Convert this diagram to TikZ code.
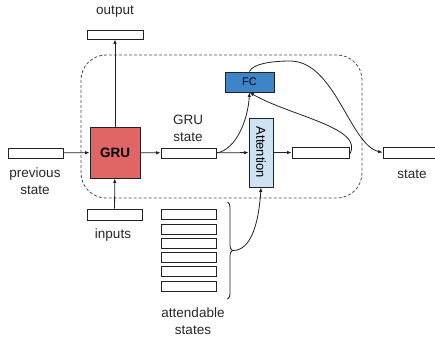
\documentclass[tikz,border=0pt]{standalone}
\usepackage{fontspec}
\setmainfont{Liberation Sans}
\usetikzlibrary{arrows.meta,decorations.pathreplacing}
\definecolor{gruRed}{HTML}{E06666}
\definecolor{fcBlue}{HTML}{3D85C6}
\definecolor{attBlue}{HTML}{CFE2F3}
\definecolor{lineC}{HTML}{222222}
\begin{document}
\begin{tikzpicture}[x=1pt,y=-1pt,
  every node/.style={font=\fontsize{13.5}{17}\selectfont},
  slot/.style={draw=lineC,line width=0.8pt,fill=white,inner sep=0pt,minimum width=55pt,minimum height=10pt},
  lbl/.style={align=center,inner sep=0pt,text=black!85},
  arr/.style={-{Latex[length=4.5pt,width=3.5pt]},line width=0.8pt,draw=lineC},
  link/.style={line width=0.8pt,draw=lineC}
]
\useasboundingbox (0,0) rectangle (435,338);
% frame
\node[draw=black!70,dashed,dash pattern=on 3pt off 2pt,line width=0.8pt,rounded corners=25pt,
      minimum width=281pt,minimum height=143pt,inner sep=0pt] (frame) at (221.5,126.5) {};
% boxes
\node[slot] (prev) at (35.5,153) {};
\node[draw=lineC,line width=0.8pt,fill=gruRed,minimum width=50pt,minimum height=51pt,inner sep=0pt,font=\fontsize{13.5}{17}\selectfont\bfseries] (gru) at (115,152.5) {GRU};
\node[slot] (gstate) at (188.5,153) {};
\node[draw=lineC,line width=0.8pt,fill=attBlue,minimum width=24pt,minimum height=69pt,inner sep=0pt,
      label={[rotate=-90,inner sep=0pt,font=\fontsize{13}{15}\selectfont]center:Attention}] (attn) at (261,152.5) {};
\node[draw=lineC,line width=0.8pt,fill=fcBlue,minimum width=49pt,minimum height=20pt,inner sep=0pt,font=\fontsize{11}{13}\selectfont] (fc) at (249.5,82) {FC};
\node[slot,minimum width=57pt,minimum height=11pt] (mid) at (320.5,152.5) {};
\node[slot,minimum width=52pt,minimum height=11pt] (state) at (409,152.5) {};
\node[slot,minimum width=56pt,minimum height=9pt] (out) at (115,34.5) {};
\node[slot,minimum height=11pt] (inp) at (114.5,214.5) {};
\node[slot] (a1) at (188.5,214.6) {};
\node[slot] (a2) at (188.5,228.9) {};
\node[slot] (a3) at (188.5,243.2) {};
\node[slot] (a4) at (188.5,257.5) {};
\node[slot] (a5) at (188.5,271.8) {};
\node[slot] (a6) at (188.5,286.1) {};
% labels
\node[lbl] (tout) at (115,12) {output};
\node[lbl] (tprev) at (35,181) {previous\\state};
\node[lbl] (tgs) at (188,128) {GRU\\state};
\node[lbl] (tinp) at (113,235) {inputs};
\node[lbl] (tatt) at (193,321) {attendable\\states};
\node[lbl] (tstate) at (412,174) {state};
% brace
\draw[link,decorate,decoration={brace,amplitude=5pt}] (227.5,202) -- (227.5,299);
\coordinate (bt) at (232.5,250.5);
% arrows
\draw[arr] (prev) -- (gru);
\draw[arr] (gru) -- (gstate);
\draw[arr] (gru) -- (out);
\draw[arr] (inp) -- (gru);
\draw[arr] (gstate) -- (attn);
\draw[arr] (attn) -- (mid);
\draw[arr] (gstate.east) .. controls (236,150) and (248,120) .. (fc.south);
\draw[arr] ([yshift=-2pt]mid.east) .. controls (366,128) and (290,116) .. (fc.south);
\draw[arr] (fc.north) .. controls (252,64) and (272,61) .. (290,61) .. controls (335,61) and (350,145) .. (state.west);
\draw[arr] (bt) .. controls (252,251) and (259,220) .. (attn.south);
\end{tikzpicture}
\end{document}
